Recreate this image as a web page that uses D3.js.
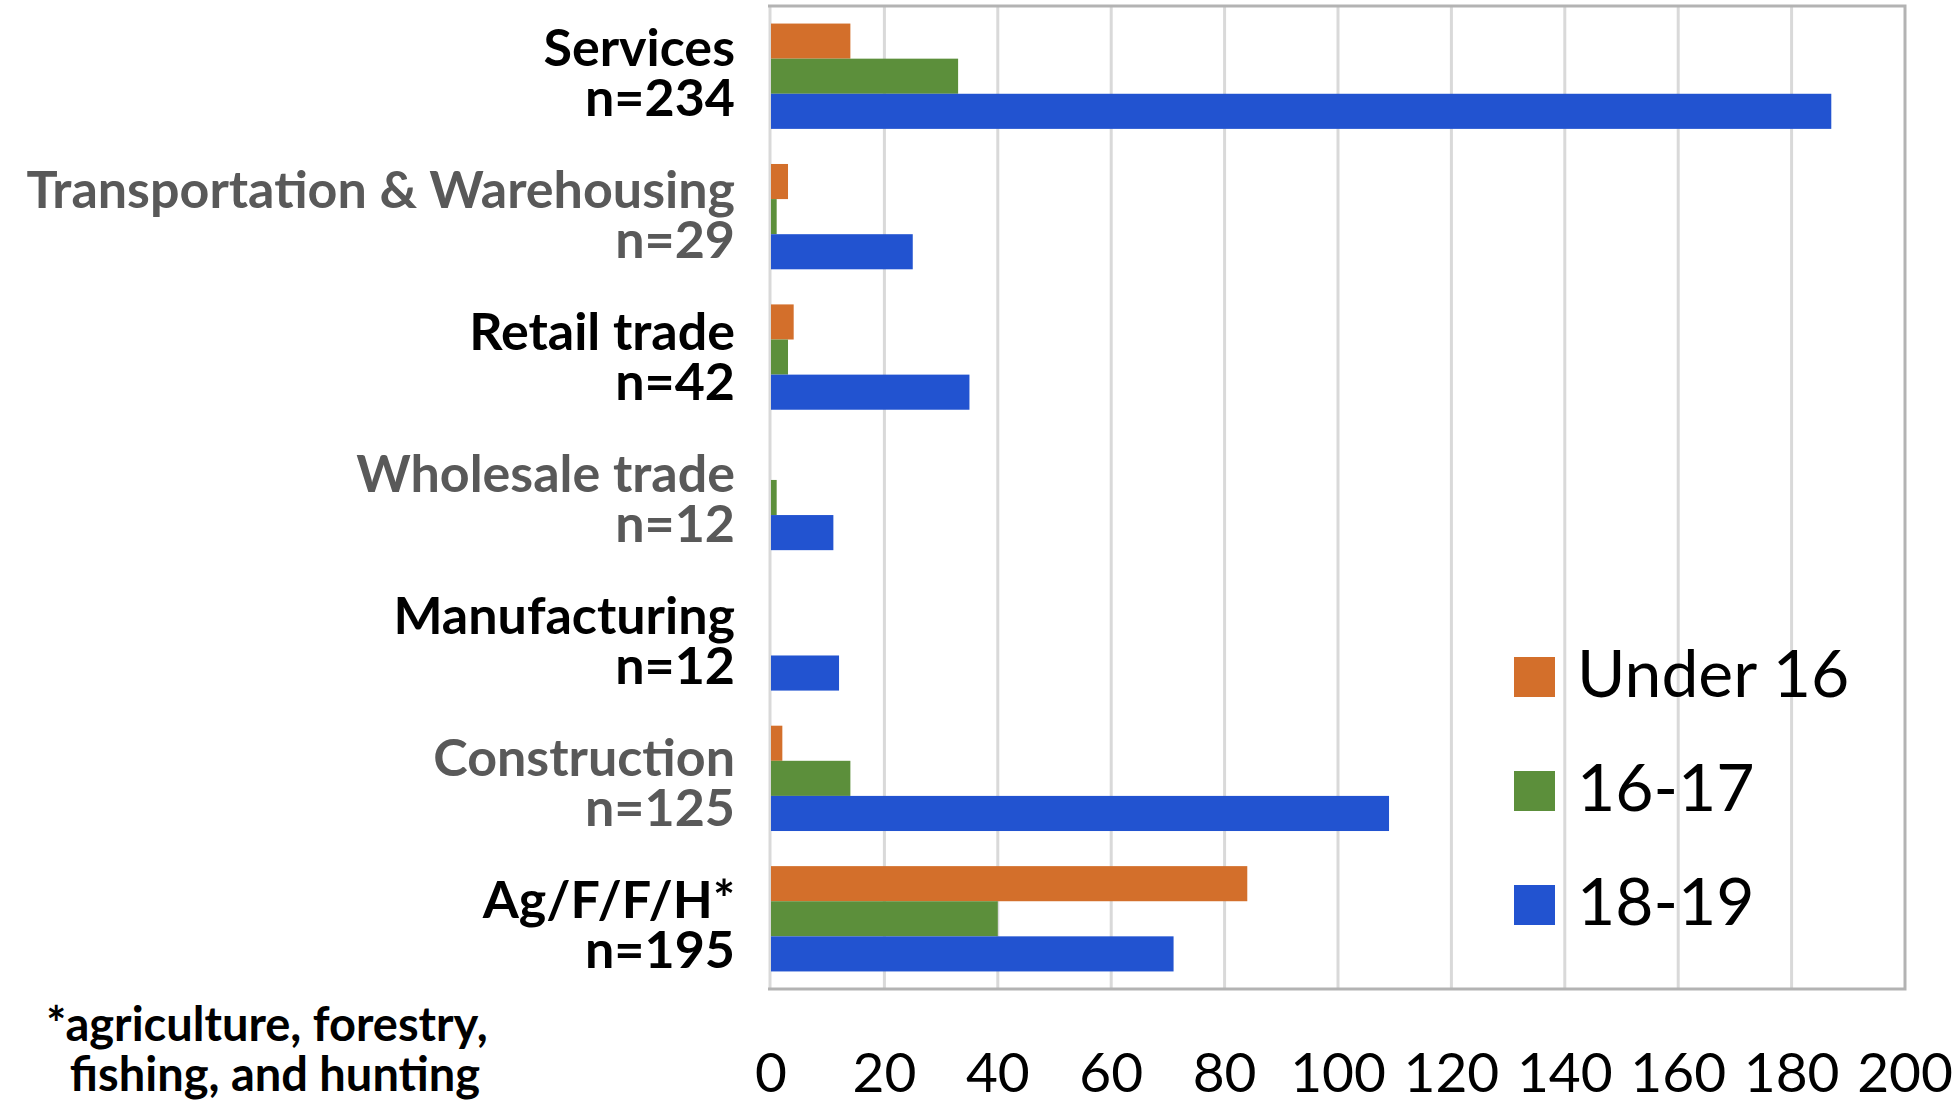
<!DOCTYPE html>
<html>
<head>
<meta charset="utf-8">
<script src="https://cdn.jsdelivr.net/npm/d3@7"></script>
<style>
  body { margin: 0; background: #fff; }
  svg { display: block; }
</style>
</head>
<body>
<svg id="chart" width="1959" height="1104"></svg>
<script>
// data
const categories = ['Services', 'Transportation & Warehousing', 'Retail trade', 'Wholesale trade', 'Manufacturing', 'Construction', 'Ag/F/F/H*'];
const counts = ['n=234', 'n=29', 'n=42', 'n=12', 'n=12', 'n=125', 'n=195'];
const series = ['Under 16', '16-17', '18-19'];
const under16 = [14, 3, 4, 0, 0, 2, 84];
const age1617 = [33, 1, 3, 1, 0, 14, 40];
const age1819 = [187, 25, 35, 11, 12, 109, 71];
const xTicks = [0, 20, 40, 60, 80, 100, 120, 140, 160, 180, 200];
const footnote = ['*agriculture, forestry,', 'fishing, and hunting'];

const colors = ['#d36f2b', '#5c8f3b', '#2253d0'];
const labelColors = ['#000', '#595959', '#000', '#595959', '#000', '#595959', '#000'];
const values = [under16, age1617, age1819];

const svg = d3.select('#chart');
const plotLeft = 771, plotRight = 1905, plotTop = 6, plotBottom = 989;

const x = d3.scaleLinear().domain([0, 200]).range([plotLeft, plotRight]);
const y = d3.scaleBand().domain(categories).range([plotTop, plotBottom]).paddingInner(0.25).paddingOuter(0.125);
const ySub = d3.scaleBand().domain(series).range([0, y.bandwidth()]);
// the category text rows sit on a slightly different pitch than the bars
const yLabel = d3.scalePoint().domain(categories).range([66, 918]);

// gridlines
svg.append('g')
  .selectAll('line')
  .data(xTicks.slice(1, -1))
  .join('line')
  .attr('x1', d => x(d)).attr('x2', d => x(d))
  .attr('y1', plotTop).attr('y2', plotBottom)
  .attr('stroke', '#d9d9d9')
  .attr('stroke-width', 3);

// left axis line
svg.append('line')
  .attr('x1', x(0) - 1).attr('x2', x(0) - 1)
  .attr('y1', plotTop).attr('y2', plotBottom)
  .attr('stroke', '#d9d9d9')
  .attr('stroke-width', 3);

// bars
const groups = svg.append('g')
  .selectAll('g')
  .data(categories)
  .join('g')
  .attr('transform', d => `translate(0,${y(d)})`);

groups.selectAll('rect')
  .data((c, i) => series.map((s, j) => ({ s, j, v: values[j][i] })))
  .join('rect')
  .attr('x', x(0))
  .attr('y', d => ySub(d.s))
  .attr('width', d => d.v > 0 ? Math.max(x(d.v) - x(0), 2) : 0)
  .attr('height', ySub.bandwidth())
  .attr('fill', d => colors[d.j]);

// plot border (top, right, bottom)
svg.append('path')
  .attr('d', `M${plotLeft - 3},${plotTop} H${plotRight} V${plotBottom} H${plotLeft - 3}`)
  .attr('fill', 'none')
  .attr('stroke', '#b3b3b3')
  .attr('stroke-width', 3);

// category labels
const labels = svg.append('g')
  .attr('font-family', 'Lato, sans-serif')
  .attr('font-weight', 'bold')
  .attr('font-size', 52)
  .attr('text-anchor', 'end');

categories.forEach((c, i) => {
  const t = labels.append('text').attr('fill', labelColors[i]);
  t.append('tspan').attr('x', 735).attr('y', yLabel(c)).text(c);
  t.append('tspan').attr('x', 735).attr('y', yLabel(c) + 50).text(counts[i]);
});

// x tick labels
svg.append('g')
  .attr('font-family', 'Lato, sans-serif')
  .attr('font-size', 55)
  .attr('text-anchor', 'middle')
  .selectAll('text')
  .data(xTicks)
  .join('text')
  .attr('x', d => x(d))
  .attr('y', 1092)
  .text(d => d);

// legend
const legend = svg.append('g')
  .selectAll('g')
  .data(series)
  .join('g')
  .attr('transform', (d, i) => `translate(1514,${657 + i * 114})`);

legend.append('rect')
  .attr('width', 41).attr('height', 40)
  .attr('fill', (d, i) => colors[i]);

legend.append('text')
  .attr('x', 63).attr('y', 40)
  .attr('font-family', 'Lato, sans-serif')
  .attr('font-size', 66)
  .text(d => d);

// footnote
svg.append('g')
  .attr('font-family', 'Lato, sans-serif')
  .attr('font-weight', 'bold')
  .attr('font-size', 47)
  .attr('text-anchor', 'middle')
  .selectAll('text')
  .data(footnote)
  .join('text')
  .attr('x', (d, i) => i === 0 ? 267 : 275)
  .attr('y', (d, i) => 1041 + i * 50)
  .text(d => d);
</script>
</body>
</html>
